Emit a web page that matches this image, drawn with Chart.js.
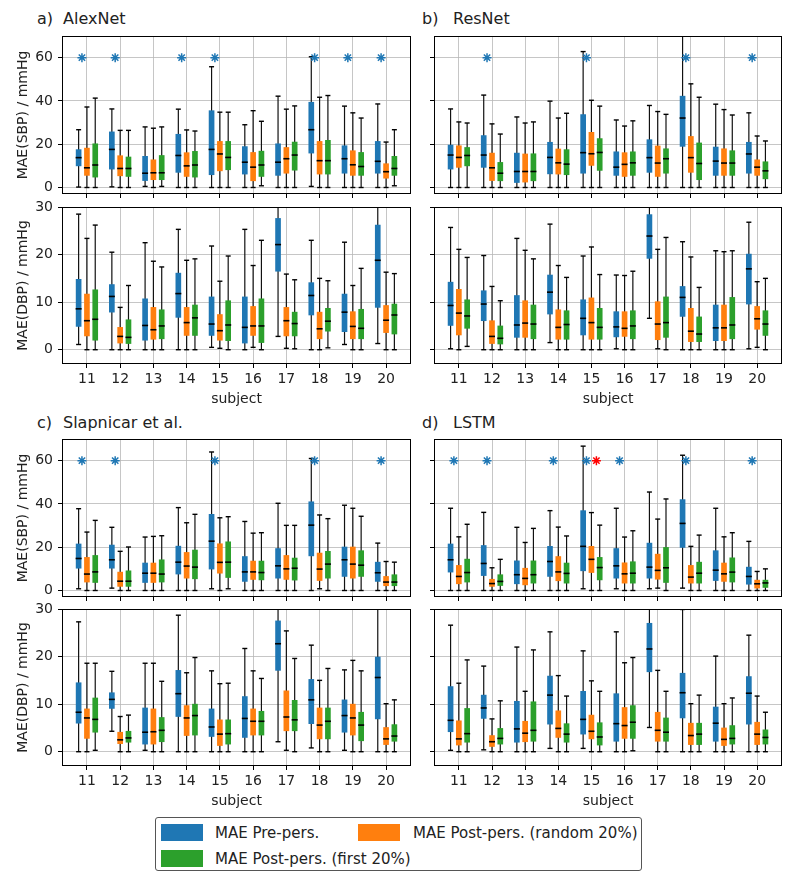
<!DOCTYPE html>
<html>
<head>
<meta charset="utf-8">
<script src="https://cdn.jsdelivr.net/npm/chart.js@4.4.0/dist/chart.umd.min.js"></script>
<style>
  body { margin: 0; width: 797px; height: 883px; background: #fff; position: relative; overflow: hidden;
         font-family: 'DejaVu Sans', sans-serif; color: #222; }
  canvas { position: absolute; }
  .ttl { position: absolute; font-size: 16px; line-height: 20px; white-space: nowrap; }
  #legend { position: absolute; left: 155px; top: 817px; width: 487px; height: 54px;
            border: 1px solid #555; border-radius: 3px; box-sizing: border-box; font-size: 15px; }
  .sw { position: absolute; width: 42px; height: 17px; }
  .lt { position: absolute; line-height: 18px; white-space: nowrap; }
</style>
</head>
<body>

<div class="ttl" style="left:37px;top:9px">a)</div><div class="ttl" style="left:63px;top:9px">AlexNet</div>
<div class="ttl" style="left:422px;top:9px">b)</div><div class="ttl" style="left:453px;top:9px">ResNet</div>
<div class="ttl" style="left:37px;top:413px">c)</div><div class="ttl" style="left:63px;top:413px">Slapnicar et al.</div>
<div class="ttl" style="left:422px;top:413px">d)</div><div class="ttl" style="left:453px;top:413px">LSTM</div>

<canvas id="aSbp" width="420" height="185" style="left:0;top:24px"></canvas>
<canvas id="aDbp" width="420" height="215" style="left:0;top:195px"></canvas>
<canvas id="bSbp" width="377" height="185" style="left:420px;top:24px"></canvas>
<canvas id="bDbp" width="377" height="215" style="left:420px;top:195px"></canvas>
<canvas id="cSbp" width="420" height="185" style="left:0;top:427px"></canvas>
<canvas id="cDbp" width="420" height="215" style="left:0;top:597px"></canvas>
<canvas id="dSbp" width="377" height="185" style="left:420px;top:427px"></canvas>
<canvas id="dDbp" width="377" height="215" style="left:420px;top:597px"></canvas>

<div id="legend">
  <div class="sw" style="left:5px;top:6px;background:#1f77b4"></div>
  <div class="lt" style="left:59px;top:6px">MAE Pre-pers.</div>
  <div class="sw" style="left:202px;top:6px;background:#ff7f0e"></div>
  <div class="lt" style="left:257px;top:6px">MAE Post-pers. (random 20%)</div>
  <div class="sw" style="left:5px;top:32px;background:#2ca02c"></div>
  <div class="lt" style="left:59px;top:32px">MAE Post-pers. (first 20%)</div>
</div>

<script>
// 피험자 번호
const subjects = [11, 12, 13, 14, 15, 16, 17, 18, 19, 20];
const sbpTicks = [0, 20, 40, 60];
const dbpTicks = [0, 10, 20, 30];
const starValue = 60;

// 각 피험자: [min, q1, median, q3, max]
// a) AlexNet
const alexSbpPre = [[0.2,10,13.8,17.5,26.7],[0.3,8.5,17.6,25.7,36.3],[0.5,3.2,6.6,14.4,28],[0,7,14.8,24.6,36.2],[0,5.9,17.6,35.5,55.8],
  [0,6.2,11.7,18.9,29],[0,5.6,11.7,20.2,42.2],[0.5,15.9,26.7,39.4,60.4],[0,6.6,13.3,19.3,37.6],[0,6.6,12.1,21.3,38.6]];
const alexSbpRand = [[0,5.6,9.1,18.2,37.2],[0,5.4,8.8,14.7,26.4],[0,3.6,6.8,12.8,27.4],[0,5.1,10,16.1,26.6],[0,7.7,15.5,21.3,34.8],
  [0,3.1,9.4,16.2,35.5],[0,6.6,13.3,18.5,36.2],[0,6.2,12.4,21.3,41.7],[0,5.6,10.5,17,34.5],[0,4.3,7.3,11,21]];
const alexSbpFirst = [[0,4.8,10.4,20.2,41.3],[0,5.1,8.8,14.1,26.4],[0.5,3.6,6.8,14.8,28],[0,4.8,10.4,16.7,26.1],[0,8.2,13.9,21.3,34.8],
  [0.8,5.1,10.4,16.8,30.6],[0,8,15,21,37.7],[0,6.2,12.4,21.8,42.5],[0,5.6,9.7,16.2,32.1],[0.8,5.6,8.8,14.4,26.7]];
const alexDbpPre = [[1.1,4.9,8.6,14.8,28.5],[0,7.9,11.2,13.7,20.5],[0,2,5.1,10.7,22.5],[0,6.8,11.8,16.1,25.3],[0.5,3,5.4,11.1,21.8],
  [0,1.4,4.7,11.1,25.3],[2.8,16.5,22.1,27.6,31],[0,7.3,11.4,14.1,23],[1.1,3.8,7.9,11.7,22.6],[1.3,8.9,18.8,26.2,31]];
const alexDbpRand = [[0,2.9,6.1,11.7,23.4],[0,1.4,2.8,4.7,8.9],[0,2.2,4.2,8.9,18.6],[0,3,5.7,8.9,18.8],[0.3,2,4,7.4,14.4],
  [0.5,3,5,9.1,17.7],[0.3,2.9,6.1,8.9,15.9],[0,2.3,4.4,7.9,15],[0,2.3,4.9,8,13.5],[0,3.6,6.2,9.3,16.3]];
const alexDbpFirst = [[0,2,6.4,12.6,26.2],[0,1.3,2.6,6.3,13.5],[0,2.3,5,8.4,17.4],[0,3,6.7,9.4,19.1],[0,1.9,5.2,10.3,19.7],
  [0,1.5,5,10.7,23],[0.2,2.9,5.5,7.9,14.7],[0.4,3.9,6,8.7,14.5],[0,2.3,4.5,8.5,17.1],[0,3.3,7.3,9.6,16]];
const alexStars = [11, 12, 14, 15, 18, 19, 20];

// b) ResNet
const resSbpPre = [[0,8.5,15,19.6,36.3],[0,9.3,15,24,42.7],[0,2.3,7.4,15.9,32.6],[0,6.3,13.9,20.9,39.9],[0,6.6,16.1,33.7,62.8],
  [0,5.6,9.4,16.5,31.2],[0,7,13.8,22.1,37.9],[0,19,32.1,42.2,72],[0,5.6,12.2,18.7,38.5],[0,6.6,15.5,20.9,34.5]];
const resSbpRand = [[0,9.3,13.9,19.3,30.3],[0,3.2,9.1,15.9,29.4],[0,2.5,7.4,15.5,29.8],[0,6.2,11.4,17.8,32.1],[0,10.2,15.6,25.5,40.3],
  [0,5.1,10.7,16.1,28.4],[0,5.1,11.3,19.2,35.1],[0,7,13.8,23.6,47.9],[0,5.6,11.3,17.9,36],[0,5.6,9.4,12.8,23.8]];
const resSbpFirst = [[0,10,14.8,18.5,29.8],[0,3.1,6.6,11.6,24.7],[0,3.1,7.4,15.6,30.3],[0,5.9,10.8,17.5,34.3],[0,7.9,16.2,22.6,37.6],
  [0,5.6,11.4,16.5,30.8],[0,6.6,13.3,17.9,33.8],[0,3.6,11.1,20.6,41.7],[0,5.6,11.3,17,33.5],[0,4,7.7,11.9,21.5]];
const resDbpPre = [[0.2,5.1,9.3,14.2,25.7],[0,6.1,9.6,12.4,19.8],[0,2.6,5.2,11.4,23.4],[1.5,7.5,12.1,15.7,26.4],[0,3.1,6.6,10.5,19.7],
  [0.2,2.7,4.8,8,15.7],[6.6,19.2,23.9,28.4,31],[0,7,11,13.3,22.7],[0,1.9,4.6,9.4,20.8],[0.2,9.6,17,20.1,26.8]];
const resDbpRand = [[0,3.1,7.7,12.7,21.1],[0,1.3,2.8,6.1,13.3],[0,2.6,5.6,10.3,20.9],[0,2.2,4.7,8.4,17.7],[0,2.2,5.7,10.9,21.6],
  [0,2.8,4.5,8,15.6],[0.2,2.1,5.4,10.1,21.1],[0,1.7,3.9,8.7,19.5],[0,1.9,4.6,9.4,20.6],[0.5,4.3,6.5,9.1,14.3]];
const resDbpFirst = [[0.7,4.5,7.1,10.5,19.4],[0,1.2,2.4,5,10.3],[0,2.3,5.4,9.4,19.1],[0,2.2,5.3,8.2,15.2],[0,2.2,4.7,8.7,15.8],
  [0,2.3,5,8.2,16.5],[0,2.6,5.7,11.1,23.6],[0,1.7,3.3,6.9,13.1],[0,2.3,5.2,11,20.8],[0,3,5.4,8.2,15]];
const resStars = [12, 15, 18, 20];

// c) Slapnicar et al.
const slapSbpPre = [[0.8,10.3,14.8,21.5,37.8],[1.1,10.3,14.2,21,29.2],[0,3.7,8,12.7,24.7],[0,7.6,13.1,20.5,38.3],[0.8,9.9,22.8,35.2,64],
  [0,4.2,8.6,15.7,31.9],[0,5.7,11.4,19.4,40.3],[0,16,30.2,41,61],[0,6.5,14.2,20.1,39.4],[0,4.2,8.2,13.1,21.9]];
const slapSbpRand = [[0,3.9,7.6,15.3,27],[0,1.9,4.3,8.5,18.1],[0,3.7,8,12.7,25],[0,5.7,11.3,17.6,31.3],[0,8,13,21.6,33.6],
  [0,5.1,8.6,13.6,26.5],[0,5.1,10,16.2,30.1],[0.8,4.6,9.9,17.3,34.9],[0,5.7,12.2,20.1,38],[0,2.2,3.9,6.5,13.4]];
const slapSbpFirst = [[0,3.7,8.6,16.2,32.4],[0,1.9,4.3,9.1,20.1],[0,3.9,7.6,14.2,25.3],[0,5.4,10.8,18.7,35.2],[0.8,6,13.1,22.5,34.1],
  [0,4.9,8.3,13.6,26.7],[0,4.8,10.3,15,30.1],[0,5.7,12.2,18.1,33.2],[0,6.5,11.7,18.4,34.3],[0,2.2,3.9,7.3,13.1]];
const slapDbpPre = [[0,6,8.3,14.5,27.3],[4.3,9.1,11,12.4,16.9],[0.3,1.6,4.1,9.2,18.6],[0,7.4,12.2,17.1,28.7],[0,3.2,5.2,9,17],
  [0,3,7,11.6,21.7],[2.1,17.1,22.7,27.5,31],[0.8,5.9,10.9,15.2,22.4],[0.3,4.1,7.6,10.9,17.2],[0,6.9,15.6,19.9,31]];
const slapDbpRand = [[0,2.8,7.1,9,18.6],[0,1.7,2.5,4.1,7.4],[0,1.6,4.2,9,18.6],[0,3.4,7.1,9.7,16.6],[0,1.3,3.7,6.7,14.3],
  [0,3.5,6.4,9,17],[0.3,4.4,7.3,12.8,25.4],[0,2.7,5.6,9.2,15],[0,3.5,7.1,10,19.2],[0,1.5,2.7,5.1,10.1]];
const slapDbpFirst = [[0.3,4.1,6.8,11.3,18.6],[0,2,2.9,4.3,7.7],[0,2.1,4.5,7.2,14.8],[0,3.5,7.6,10,19.8],[0,1.6,3.8,6.7,14.4],
  [0,3.5,6.4,8.5,15.4],[0,4.4,6.7,10.8,19.6],[0,2.7,6.4,9.2,17.5],[0,2.3,5.6,8.3,17],[0,2.2,3.3,5.7,10.9]];
const slapStars = [11, 12, 15, 18, 20];

// d) LSTM
const lstmSbpPre = [[0,8.5,14.2,21.5,38],[0,6.9,12.5,20.8,36.1],[0,3.1,7.3,13.7,29.2],[0,6.5,13.4,20.4,36.9],[0.8,9.1,20.4,36.9,66.7],
  [0.8,5.7,11.4,19.4,38],[0.8,5.7,10.8,21.9,45.5],[1.1,19.9,31,42,62.5],[0,4.6,9.4,18.4,38],[0,2.9,6.5,10.8,22.7]];
const lstmSbpRand = [[0,3.1,6.5,11.6,24.8],[0,1.9,3.2,5.2,10.5],[0,2.6,5.6,10.3,22.2],[0,4.5,8.6,15.7,29.3],[0,8.3,14.4,20.4,36],
  [0,3.4,7.7,12.8,24.7],[1.1,5.2,9.3,16.8,33],[0,3.4,6.2,11.6,20.4],[0,4.2,7.7,12.7,24.8],[0,1.1,3.1,4.8,8.8]];
const lstmSbpFirst = [[0,3.9,8.3,14.5,30.6],[0,2.3,4.2,7.3,14.4],[0,3.4,7.3,13.7,28.7],[0,3.4,7.9,12.7,25.2],[0,4.9,10.6,15.3,30.2],
  [0,3.4,8,13.3,27.6],[0,3.7,10.5,19.9,42.3],[0,3.4,8,13.1,25.6],[0,3.9,8.5,15.1,26.7],[0,1.4,3.5,4.8,10]];
const lstmDbpPre = [[0.3,4.2,6.6,13.7,26.6],[0.4,7,9.2,11.9,18],[0,2,4.8,10.6,22],[0.7,5.8,11.9,15.9,25.2],[0.7,3.7,6.8,12.7,21.2],
  [0,2.2,5.9,12.2,25.2],[5.1,16.8,21.6,27,31],[0,7.1,12.4,16.5,29.9],[0,2.2,6,9.4,20.1],[0,5.8,12.3,15.8,24.5]];
const lstmDbpRand = [[0,1.4,2.7,6.5,14.4],[0,1.1,2.1,3.4,6.9],[0,2.1,3.9,6.4,12.7],[0,3,4.9,8.6,16],[0,2.7,4.3,7.7,14.9],
  [0,2.8,5.5,9.3,18.7],[0,2.2,4.5,8.3,17.1],[0,1.5,3.4,6,10.1],[0,1.3,2.6,5,10.1],[0,1.5,3.7,6.2,11.7]];
const lstmDbpFirst = [[0,2,3.8,9.1,19.3],[0,1.6,2.8,4.9,10.7],[0,2.2,4.5,10.5,21.4],[0,2,3.7,5.9,11.7],[0,1.4,3.1,6.1,12.7],
  [0.2,2.8,6.2,9.7,19.8],[0,2.2,4.1,7.1,12.7],[0,1.5,3.7,6,11.9],[0,1.6,2.8,5.5,11.3],[0,1.6,3,4.6,8.3]];
const lstmStars = [11, 12, 14, 15, 16, 18, 20];
const lstmStarsRed = [15];

// 스타일
const colors = ['#1f77b4', '#ff7f0e', '#2ca02c'];
const offsets = [-0.25, 0, 0.25];
const gridColor = '#b8b8b8';
const tickFont = { family: 'DejaVu Sans', size: 14 };

// 축 테두리 (matplotlib 스타일 박스)
const frame = {
    id: 'frame',
    afterDatasetsDraw(chart) {
        const { ctx, chartArea: a } = chart;
        ctx.save();
        ctx.strokeStyle = '#000';
        ctx.lineWidth = 1;
        ctx.strokeRect(Math.round(a.left) + 0.5, Math.round(a.top) + 0.5,
            Math.round(a.right - a.left) - 1, Math.round(a.bottom - a.top) - 1);
        ctx.restore();
    }
};

// 박스플롯 패널 생성
function createPanel(id, p) {
    const series = [p.pre, p.rand, p.first];
    const whiskers = [], caps = [], medians = [];

    const boxSets = series.map((rows, k) => {
        const pts = rows.map((r, i) => {
            const x = subjects[i] + offsets[k];
            whiskers.push({ x, y: [r[0], r[4]] });
            caps.push({ x, y: r[0] }, { x, y: r[4] });
            medians.push({ x, y: r[2] });
            return { x, y: [r[1], r[3]] };
        });
        return { type: 'bar', data: pts, backgroundColor: colors[k], barThickness: 5,
                 grouped: false, order: 2, clip: 0 };
    });

    const datasets = [
        { type: 'bar', data: whiskers, backgroundColor: '#111', barThickness: 1.2, inflateAmount: 0,
          grouped: false, order: 3, clip: 0 },
        ...boxSets,
        { type: 'scatter', data: medians, pointStyle: 'line', pointRadius: 3, borderColor: '#000',
          borderWidth: 1.6, order: 1, clip: 0 },
        { type: 'scatter', data: caps, pointStyle: 'line', pointRadius: 2.5, borderColor: '#000',
          borderWidth: 1.4, order: 1, clip: 0 }
    ];
    if (p.stars) {
        datasets.push({ type: 'scatter', data: p.stars.map(s => ({ x: s - 0.15, y: starValue })),
            pointStyle: 'star', pointRadius: 4.5, borderColor: colors[0], borderWidth: 1.5, order: 0 });
    }
    if (p.redStars) {
        datasets.push({ type: 'scatter', data: p.redStars.map(s => ({ x: s + 0.15, y: starValue })),
            pointStyle: 'star', pointRadius: 4.5, borderColor: '#ff0000', borderWidth: 1.5, order: 0 });
    }

    return new Chart(document.getElementById(id), {
        type: 'scatter',
        data: { datasets },
        options: {
            responsive: false,
            animation: false,
            events: [],
            devicePixelRatio: 1,
            layout: { padding: { top: 12, right: p.right, left: 0, bottom: 0 } },
            plugins: { legend: { display: false }, tooltip: { enabled: false } },
            scales: {
                x: {
                    type: 'linear', min: 10.25, max: 20.75, offset: false,
                    afterBuildTicks: s => { s.ticks = subjects.map(v => ({ value: v })); },
                    afterFit: s => { s.height = p.xHeight; s.paddingLeft = 0; s.paddingRight = 0; },
                    grid: { color: gridColor, lineWidth: 0.8, tickLength: 4, tickColor: '#000', tickWidth: 1, offset: false },
                    border: { display: false },
                    ticks: { display: p.xLabels, font: tickFont, color: '#222', padding: 3, maxRotation: 0, autoSkip: false },
                    title: { display: p.xLabels, text: 'subject', font: tickFont, color: '#222', padding: { top: 0, bottom: 2.6 } }
                },
                y: {
                    type: 'linear', min: p.yMin, max: p.yMax,
                    afterBuildTicks: s => { s.ticks = p.yTicks.map(v => ({ value: v })); },
                    afterFit: s => { s.width = p.yWidth; s.paddingTop = 0; s.paddingBottom = 0; },
                    grid: { color: gridColor, lineWidth: 0.8, tickLength: 4, tickColor: '#000', tickWidth: 1 },
                    border: { display: false },
                    ticks: { display: !!p.yTitle, font: tickFont, color: '#222', padding: 5 },
                    title: { display: !!p.yTitle, text: p.yTitle, font: tickFont, color: '#222', padding: { top: 14.6, bottom: 0 } }
                }
            }
        },
        plugins: [frame]
    });
}

const sbp = { yMin: -3, yMax: 70, yTicks: sbpTicks, xHeight: 15, xLabels: false };
const dbp = { yMin: -3, yMax: 30, yTicks: dbpTicks, xHeight: 46, xLabels: true };
const leftCol = { yWidth: 62, right: 9 };
const rightCol = { yWidth: 14, right: 15 };

createPanel('aSbp', { ...sbp, ...leftCol, yTitle: 'MAE(SBP) / mmHg', pre: alexSbpPre, rand: alexSbpRand, first: alexSbpFirst, stars: alexStars });
createPanel('aDbp', { ...dbp, ...leftCol, yTitle: 'MAE(DBP) / mmHg', pre: alexDbpPre, rand: alexDbpRand, first: alexDbpFirst });
createPanel('bSbp', { ...sbp, ...rightCol, pre: resSbpPre, rand: resSbpRand, first: resSbpFirst, stars: resStars });
createPanel('bDbp', { ...dbp, ...rightCol, pre: resDbpPre, rand: resDbpRand, first: resDbpFirst });
createPanel('cSbp', { ...sbp, ...leftCol, yTitle: 'MAE(SBP) / mmHg', pre: slapSbpPre, rand: slapSbpRand, first: slapSbpFirst, stars: slapStars });
createPanel('cDbp', { ...dbp, ...leftCol, yTitle: 'MAE(DBP) / mmHg', pre: slapDbpPre, rand: slapDbpRand, first: slapDbpFirst });
createPanel('dSbp', { ...sbp, ...rightCol, pre: lstmSbpPre, rand: lstmSbpRand, first: lstmSbpFirst, stars: lstmStars, redStars: lstmStarsRed });
createPanel('dDbp', { ...dbp, ...rightCol, pre: lstmDbpPre, rand: lstmDbpRand, first: lstmDbpFirst });
</script>
</body>
</html>
